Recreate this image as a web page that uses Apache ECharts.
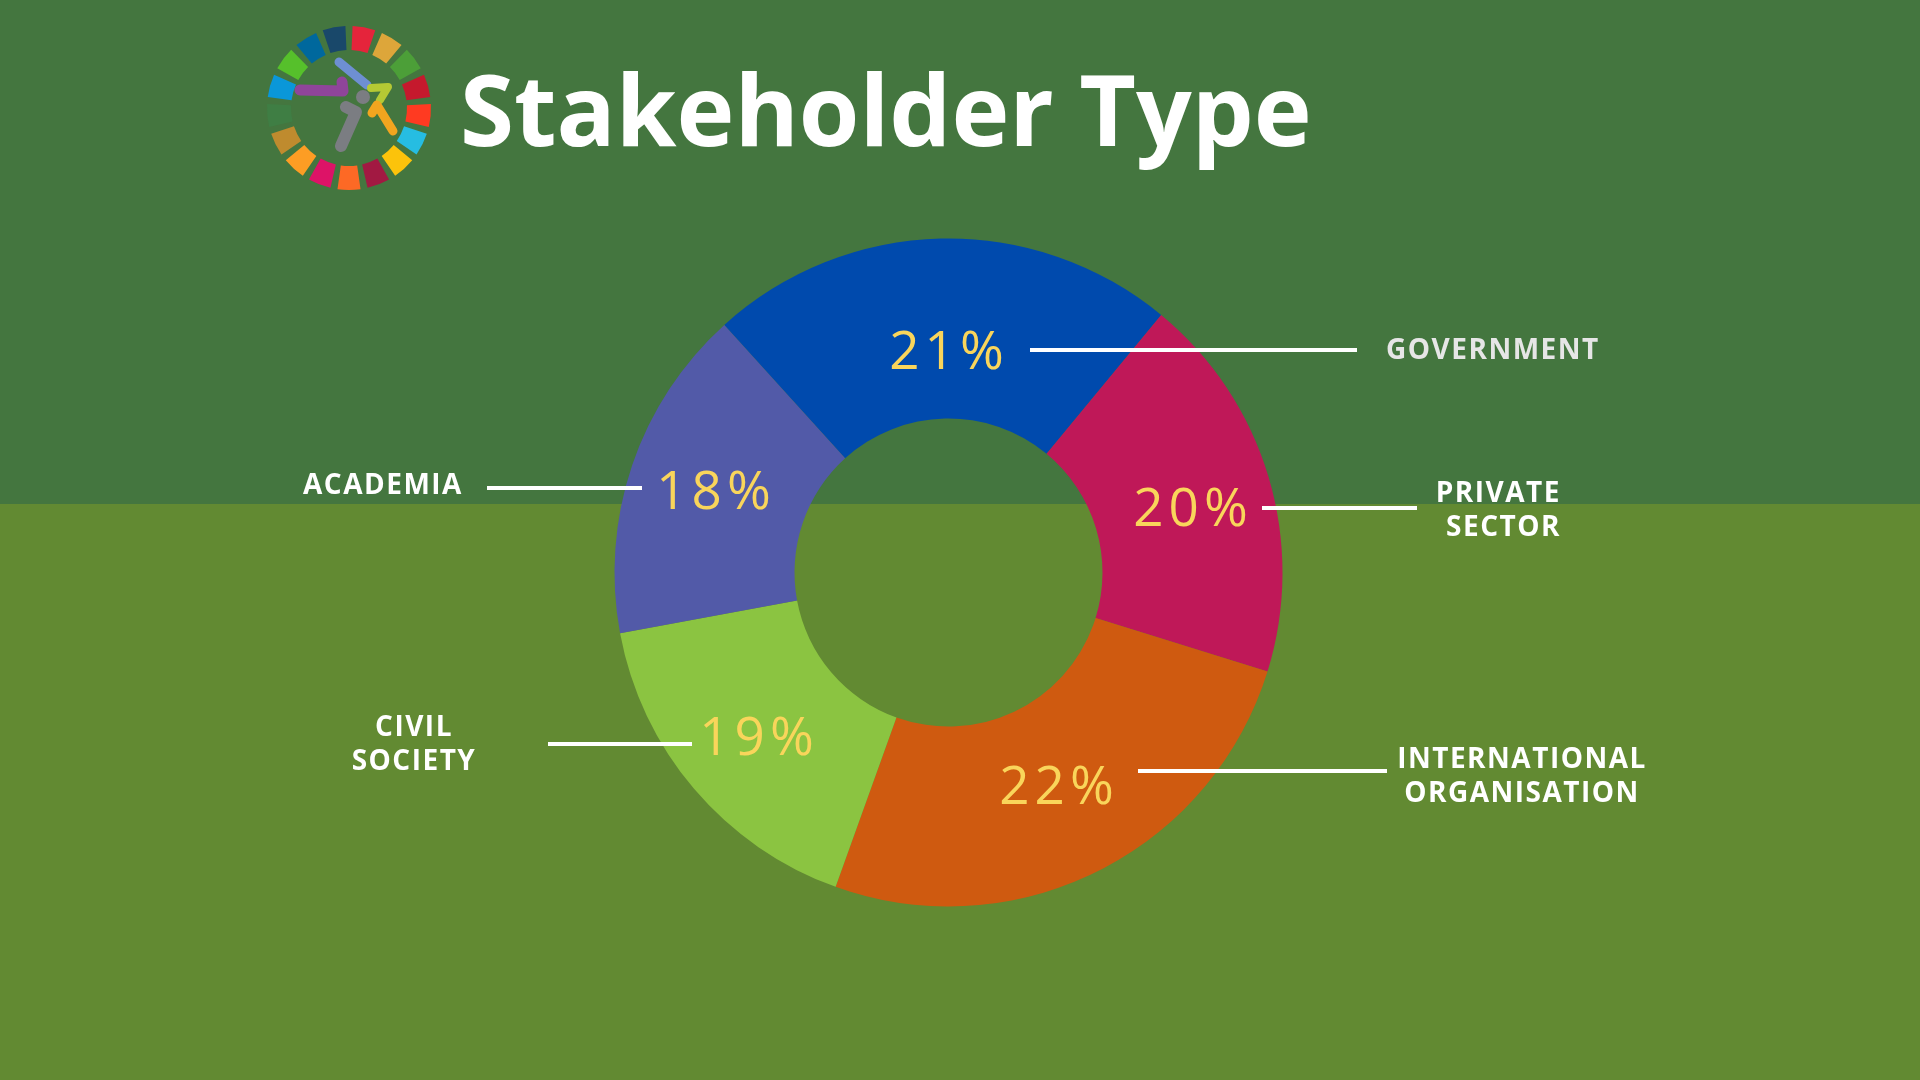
<!DOCTYPE html>
<html>
<head>
<meta charset="utf-8">
<script src="https://cdn.jsdelivr.net/npm/echarts@6/dist/echarts.min.js"></script>
<style>
html,body{margin:0;padding:0;background:#44763F;}
#chart{width:1920px;height:1080px;}
</style>
</head>
<body>
<div id="chart"></div>
<script>
// ---------- data ----------
const categories = ['Government', 'Private Sector', 'International Organisation', 'Civil Society', 'Academia'];
const nameLabels = ['GOVERNMENT', 'PRIVATE\nSECTOR', 'INTERNATIONAL\nORGANISATION', 'CIVIL\nSOCIETY', 'ACADEMIA'];
const pctLabels = ['21%', '20%', '22%', '19%', '18%'];
// share of the ring each slice occupies, as drawn in the picture
const sliceShare = [22.7, 18.8, 25.7, 16.6, 16.2];
// SDG wheel of the logo: 17 equal goals
const sdgGoals = ['1','2','3','4','5','6','7','8','9','10','11','12','13','14','15','16','17'];
const sdgWeight = [1,1,1,1,1,1,1,1,1,1,1,1,1,1,1,1,1];

// ---------- styles ----------
const sliceColors = ['#004AAD', '#BF1858', '#CF5A10', '#8BC441', '#525AA8'];
const nameColors = ['#E6E6E6', '#FFFFFF', '#FFFFFF', '#FFFFFF', '#FFFFFF'];
const sdgColors = ['#E5243B','#DDA63A','#4C9F38','#C5192D','#FF3A21','#26BDE2','#FCC30B','#A21942',
                   '#FD6925','#DD1367','#FD9D24','#BF8B2E','#3F7E44','#0A97D9','#56C02B','#00689D','#19486A'];
// label placement (pixel layout): [x, y, align, lineX1, lineX2, lineY]
const nameLayout = [
  [1386, 351, 'left',   1030, 1357, 350],
  [1561, 511, 'right',  1262, 1417, 508],
  [1522, 777, 'center', 1138, 1387, 771],
  [414,  745, 'center', 548,  692,  744],
  [303,  486, 'left',   487,  642,  488]
];
// percent label centres (pixel layout)
const pctLayout = [[949, 354], [1193, 511], [1059, 789], [759, 740], [716, 494]];

// letter spacing for the spaced typography (by font size)
const SPACING = {28: '1.5px', 53: '5px'};
(function(){
  const proto = CanvasRenderingContext2D.prototype;
  const orig = proto.fillText;
  proto.fillText = function(t, x, y, w) {
    const m = /(\d+(?:\.\d+)?)px/.exec(this.font || '');
    const sp = m ? SPACING[Math.round(parseFloat(m[1]))] : null;
    if ('letterSpacing' in this) this.letterSpacing = sp || '0px';
    return w === undefined ? orig.call(this, t, x, y) : orig.call(this, t, x, y, w);
  };
})();

const chart = echarts.init(document.getElementById('chart'), null, {renderer: 'canvas', width: 1920, height: 1080});

const ringData = categories.map((c, i) => ({name: c, value: sliceShare[i], itemStyle: {color: sliceColors[i]}}));
const center = [948.5, 572.5];
const radius = [154, 334];
const startAngle = 132.17;

const option = {
  animation: false,
  backgroundColor: {
    type: 'linear', x: 0, y: 0, x2: 0, y2: 1,
    colorStops: [
      {offset: 0, color: '#44763F'}, {offset: 0.4665, color: '#44763F'},
      {offset: 0.4665, color: '#628A32'}, {offset: 1, color: '#628A32'}
    ]
  },
  title: {
    text: 'Stakeholder Type',
    left: 455, top: 64,
    textStyle: {color: '#FFFFFF', fontSize: 98, fontWeight: 'bold', fontFamily: 'Open Sans'}
  },
  graphic: [
    {type: 'polyline', shape: {points: [[339,62],[356,76],[367,85]]},
     style: {stroke: '#6E8FD2', lineWidth: 9, lineCap: 'round', lineJoin: 'round', fill: null}},
    {type: 'polyline', shape: {points: [[300,90],[343,91],[342,82]]},
     style: {stroke: '#8F459A', lineWidth: 11, lineCap: 'round', lineJoin: 'round', fill: null}},
    {type: 'circle', shape: {cx: 363, cy: 97, r: 7}, style: {fill: '#7B7D82'}},
    {type: 'polyline', shape: {points: [[346,107],[356,112],[341,146]]},
     style: {stroke: '#7B7D82', lineWidth: 12, lineCap: 'round', lineJoin: 'round', fill: null}},
    {type: 'polyline', shape: {points: [[371,88],[388,87],[380,100]]},
     style: {stroke: '#B5C934', lineWidth: 8, lineCap: 'round', lineJoin: 'round', fill: null}},
    {type: 'polyline', shape: {points: [[372,113],[377,105],[393,131]]},
     style: {stroke: '#F2A51F', lineWidth: 9, lineCap: 'round', lineJoin: 'round', fill: null}}
  ],
  series: [
    {
      type: 'pie', name: 'SDG', silent: true, z: 2,
      center: [349, 108], radius: [58, 82], startAngle: 90, clockwise: true, padAngle: 5,
      label: {show: false}, labelLine: {show: false}, emphasis: {disabled: true},
      data: sdgGoals.map((g, i) => ({name: g, value: sdgWeight[i], itemStyle: {color: sdgColors[i]}}))
    },
    {
      type: 'pie', name: 'Stakeholder Type', silent: true, z: 2,
      center: center, radius: radius, startAngle: startAngle, clockwise: true,
      avoidLabelOverlap: false, emphasis: {disabled: true},
      data: ringData,
      label: {
        show: true, position: 'inside',
        formatter: p => pctLabels[p.dataIndex],
        color: '#F9D55B', fontSize: 53, fontWeight: 'normal', fontFamily: 'Open Sans'
      },
      labelLine: {show: false},
      labelLayout: function (params) {
        const P = pctLayout[params.dataIndex];
        return {x: P[0], y: P[1], align: 'center', verticalAlign: 'middle'};
      }
    },
    {
      type: 'pie', name: 'names', silent: true, z: 5,
      center: center, radius: radius, startAngle: startAngle, clockwise: true,
      avoidLabelOverlap: false, emphasis: {disabled: true},
      data: categories.map((c, i) => ({name: c, value: sliceShare[i],
        itemStyle: {color: 'rgba(0,0,0,0)'},
        label: {color: nameColors[i]}})),
      label: {
        show: true, position: 'outside',
        formatter: p => nameLabels[p.dataIndex],
        fontSize: 28, fontWeight: 'bold', fontFamily: 'Open Sans', lineHeight: 34
      },
      labelLine: {show: true, length: 10, length2: 10, smooth: false,
                  lineStyle: {color: '#FFFFFF', width: 4}},
      labelLayout: function (params) {
        const L = nameLayout[params.dataIndex];
        return {
          x: L[0], y: L[1], align: L[2], verticalAlign: 'middle',
          labelLinePoints: [[L[3], L[5]], [L[4], L[5]]]
        };
      }
    }
  ]
};
chart.setOption(option);
</script>
</body>
</html>
